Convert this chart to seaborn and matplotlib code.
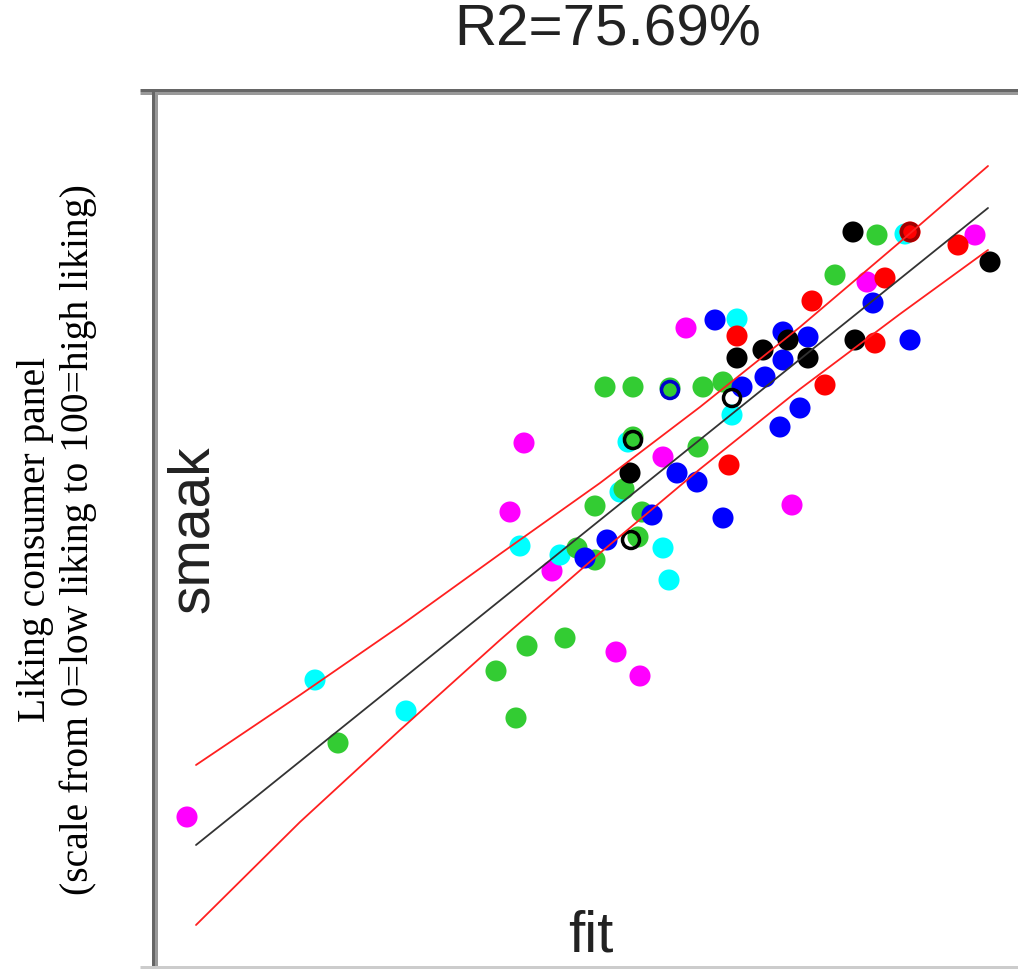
import matplotlib.pyplot as plt
import numpy as np
import pandas as pd
import seaborn as sns
from matplotlib.lines import Line2D

# points per panel group: fit (predicted) vs smaak (observed liking)
magenta_fit = [13.3, 47.0, 45.6, 49.8, 56.2, 58.6, 63.2, 60.9, 73.8, 81.3, 92.1]
magenta_smaak = [24.9, 62.3, 55.4, 49.5, 41.4, 39.0, 73.8, 60.9, 56.1, 78.4, 83.1]

cyan_fit = [26.1, 35.2, 46.6, 50.6, 60.9, 61.5, 68.3, 67.8, 57.4, 85.1, 56.6]
cyan_smaak = [38.6, 35.5, 52.0, 51.1, 51.8, 48.6, 74.7, 65.1, 62.4, 83.2, 57.4]

green_fit = [28.4, 46.2, 44.2, 47.3, 51.1, 55.1, 57.9, 61.6, 64.9, 66.9,
             57.9, 64.4, 54.1, 57.0, 58.8, 58.4, 52.3, 54.1, 82.3, 78.1]
green_smaak = [32.3, 34.8, 39.5, 42.0, 42.8, 67.9, 67.9, 67.8, 67.9, 68.4,
               62.9, 61.9, 56.0, 57.7, 55.4, 52.9, 51.8, 50.6, 83.1, 79.1]

blue_fit = [66.1, 68.8, 71.1, 72.9, 72.9, 75.4, 74.6, 72.6, 62.3, 64.3,
            66.9, 55.3, 59.8, 81.9, 85.6, 53.1]
blue_smaak = [74.6, 67.9, 68.9, 70.6, 73.4, 72.9, 65.8, 63.9, 59.3, 58.4,
              54.8, 52.6, 55.1, 76.3, 72.6, 50.8]

black_fit = [79.9, 80.1, 93.6, 68.3, 70.9, 75.4, 73.4, 57.6]
black_smaak = [83.4, 72.6, 80.4, 70.8, 71.6, 70.8, 72.6, 59.3]

red_fit = [90.4, 83.1, 75.8, 82.1, 68.3, 77.1, 67.5, 85.6]
red_smaak = [82.1, 78.8, 76.5, 72.3, 73.0, 68.1, 60.1, 83.4]

# open markers drawn over some points
ring_fit = [67.8, 57.9, 57.7, 61.6, 85.6]
ring_smaak = [66.8, 62.6, 52.6, 67.6, 83.4]
ring_group = ["black", "black", "black", "blue", "red"]

# fitted line and confidence curves
line_fit = [14.2, 93.4]
line_smaak = [22.1, 85.8]
band_fit = [14.2, 24.6, 34.6, 44.6, 54.6, 64.6, 74.6, 84.6, 93.4]
band_upper = [30.1, 37.1, 44.0, 51.2, 58.3, 65.9, 73.9, 82.4, 90.0]
band_lower = [14.1, 24.4, 33.6, 42.6, 51.3, 59.7, 67.7, 75.2, 81.6]

groups = {
    "magenta": (magenta_fit, magenta_smaak),
    "cyan": (cyan_fit, cyan_smaak),
    "green": (green_fit, green_smaak),
    "blue": (blue_fit, blue_smaak),
    "black": (black_fit, black_smaak),
    "red": (red_fit, red_smaak),
}
rows = []
for g, (xs, ys) in groups.items():
    for x, y in zip(xs, ys):
        rows.append({"fit": x, "smaak": y, "group": g})
df = pd.DataFrame(rows)
rings = pd.DataFrame({"fit": ring_fit, "smaak": ring_smaak, "group": ring_group})

palette = {"magenta": "#ff00ff", "cyan": "#00ffff", "green": "#33cc33",
           "blue": "#0000ff", "black": "#000000", "red": "#ff0000"}
ring_palette = {"black": "#000000", "blue": "#0000cc", "red": "#a00000"}

W, H = 1018, 969
sns.set_style("white")
fig = plt.figure(figsize=(W / 100, H / 100), dpi=100)
ax = fig.add_axes([154 / W, 3 / H, 864 / W, 875 / H])

sns.scatterplot(data=df, x="fit", y="smaak", hue="group", palette=palette,
                s=230, linewidth=0, legend=False, ax=ax, zorder=2)
for g, sub in rings.groupby("group"):
    ax.scatter(sub["fit"], sub["smaak"], s=150, facecolors="none",
               edgecolors=ring_palette[g], linewidths=2.5, zorder=3)

lines = pd.DataFrame({"fit": band_fit, "upper": band_upper, "lower": band_lower})
sns.lineplot(data=lines, x="fit", y="upper", color="#ff2020", lw=1.3, ax=ax, zorder=4)
sns.lineplot(data=lines, x="fit", y="lower", color="#ff2020", lw=1.3, ax=ax, zorder=4)
sns.lineplot(x=line_fit, y=line_smaak, color="#333333", lw=1.3, ax=ax, zorder=4)

ax.set_xlim(10, 96.4)
ax.set_ylim(10, 97.5)
ax.set_xticks([])
ax.set_yticks([])
ax.set_xlabel("")
ax.set_ylabel("")
for side in ["left", "top", "bottom", "right"]:
    ax.spines[side].set_visible(False)

# two-tone frame lines (dark outer, light inner)
px = 72 / 100
frame = [
    ([140, W], [89.5, 89.5], "#666666"),
    ([140, W], [92.5, 92.5], "#999999"),
    ([152.5, 152.5], [91, H], "#666666"),
    ([155.5, 155.5], [94, H], "#999999"),
    ([140, W], [967, 967], "#cccccc"),
]
for xs, ys, c in frame:
    fig.add_artist(Line2D([x / W for x in xs], [1 - y / H for y in ys],
                          color=c, lw=3 * px, solid_capstyle="butt"))

fig.text(608 / W, 1 - 31 / H, "R2=75.69%", ha="center", va="center",
         fontsize=42, family="Liberation Sans", color="#222222")
fig.text(193 / W, 1 - 529 / H, "smaak", rotation=90, ha="center", va="center",
         fontsize=41, family="Liberation Sans", color="#222222")
fig.text(591 / W, 1 - 952 / H, "fit", ha="center", va="baseline",
         fontsize=42, family="Liberation Sans", color="#222222")
fig.text(57 / W, 1 - 540 / H,
         "Liking consumer panel\n(scale from 0=low liking to 100=high liking)",
         rotation=90, ha="center", va="center", multialignment="center",
         fontsize=28.5, family="Liberation Serif", color="#000000")

fig.savefig("out.png", dpi=100)
